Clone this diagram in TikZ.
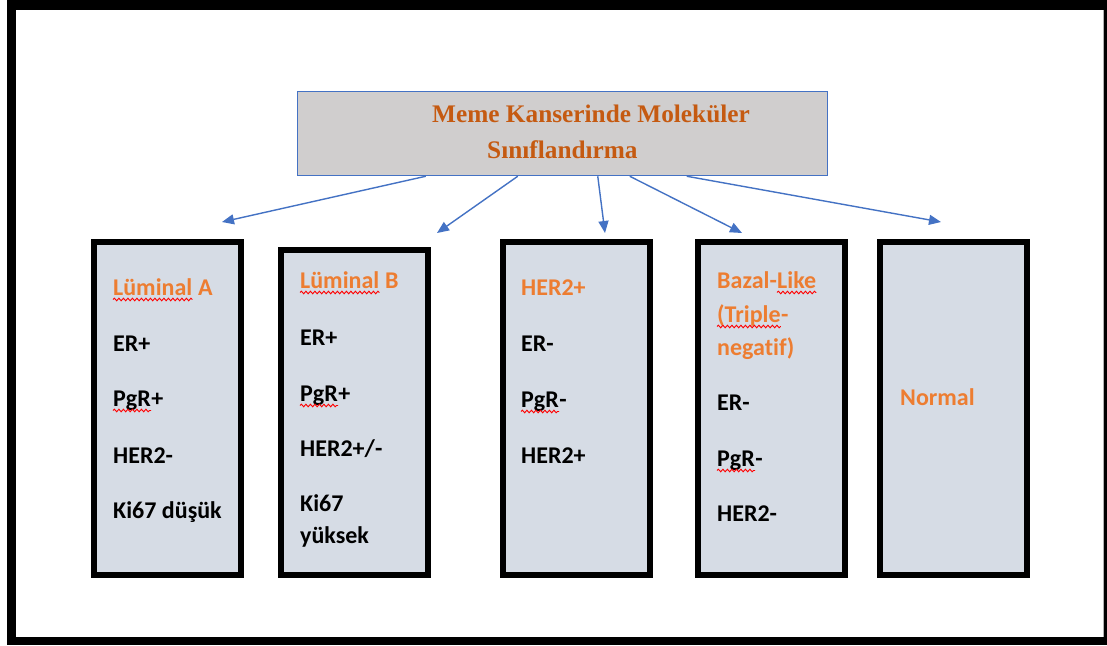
\documentclass[tikz,border=0pt]{standalone}
\usepackage{fontspec}
\setmainfont{Liberation Serif}
\newfontfamily\calib[Ligatures=NoCommon]{Carlito}
\usetikzlibrary{arrows.meta,decorations.pathmorphing}
\definecolor{titleor}{HTML}{C55A11}
\definecolor{labor}{HTML}{ED7D31}
\definecolor{titlefill}{HTML}{D0CECE}
\definecolor{myblue}{HTML}{4472C4}
\definecolor{boxfill}{HTML}{D6DCE5}
\tikzset{
  catbox/.style={draw=black, line width=6pt, fill=boxfill, minimum width=147pt, minimum height=333pt, inner sep=0pt},
  lab/.style={anchor=base west, inner sep=0pt, text=labor, font=\calib\bfseries\fontsize{24}{28}\selectfont},
  itm/.style={anchor=base west, inner sep=0pt, text=black, font=\calib\bfseries\fontsize{24}{28}\selectfont},
  ttl/.style={anchor=base west, inner sep=0pt, text=titleor, font=\bfseries\fontsize{25.3}{29}\selectfont},
  arr/.style={draw=myblue, line width=1.4pt, -{Triangle[length=12pt,width=10pt]}},
  wave/.style={draw=red, line width=0.9pt, decorate, decoration={snake, segment length=4.5pt, amplitude=1.3pt}}
}
\begin{document}
\begin{tikzpicture}[x=1pt,y=-1pt]
\useasboundingbox (0,0) rectangle (1107,645);
% outer frame
\fill[black] (7,0) rectangle (1107,645);
\fill[white] (16,10) rectangle (1103,637);
\draw[gray!60, line width=0.8pt] (1103.6,10) -- (1103.6,637);
% title box
\node[draw=myblue, line width=1.5pt, fill=titlefill, minimum width=530pt, minimum height=84pt, inner sep=0pt] (title) at (562.5,133.5) {};
\node[ttl] (title1) at (432,122) {Meme Kanserinde Moleküler};
\node[ttl] (title2) at (487,158) {Sınıflandırma};
% category boxes
\node[catbox] (box1) at (167,408.5) {};
\node[catbox, minimum height=325pt] (box2) at (354,412.5) {};
\node[catbox] (box3) at (576,408.5) {};
\node[catbox] (box4) at (771,408.5) {};
\node[catbox] (box5) at (953.5,408.5) {};
% arrows
\coordinate (t1) at (222,222);
\coordinate (t2) at (437,233);
\coordinate (t3) at (605,233);
\coordinate (t4) at (742,233);
\coordinate (t5) at (941,222);
\draw[arr] ([xshift=129pt]title.south west) -- (t1);
\draw[arr] ([xshift=221pt]title.south west) -- (t2);
\draw[arr] ([xshift=301pt]title.south west) -- (t3);
\draw[arr] ([xshift=333pt]title.south west) -- (t4);
\draw[arr] ([xshift=390pt]title.south west) -- (t5);
% box 1
\node[lab] (b1a) at (113,295) {Lüminal};
\node[lab] (b1a2) at (b1a.base east) {\ A};
\node[itm] (b1b) at (113,351) {ER+};
\node[itm] (b1c) at (113,406) {PgR};
\node[itm] (b1c2) at (b1c.base east) {+};
\node[itm] (b1d) at (113,463) {HER2-};
\node[itm] (b1e) at (113,518) {Ki67 düşük};
% box 2
\node[lab] (b2a) at (300,288) {Lüminal};
\node[lab] (b2a2) at (b2a.base east) {\ B};
\node[itm] (b2b) at (300,345) {ER+};
\node[itm] (b2c) at (300,401) {PgR};
\node[itm] (b2c2) at (b2c.base east) {+};
\node[itm] (b2d) at (300,456) {HER2+/-};
\node[itm] (b2e) at (300,511) {Ki67};
\node[itm] (b2f) at (300,543) {yüksek};
% box 3
\node[lab] (b3a) at (521,295) {HER2+};
\node[itm] (b3b) at (521,351) {ER-};
\node[itm] (b3c) at (521,407) {PgR};
\node[itm] (b3c2) at (b3c.base east) {-};
\node[itm] (b3d) at (521,463) {HER2+};
% box 4
\node[lab] (b4a) at (717,288) {Bazal-};
\node[lab] (b4a2) at (b4a.base east) {Like};
\node[lab] (b4b) at (717,322) {(Triple};
\node[lab] (b4b2) at (b4b.base east) {-};
\node[lab] (b4c) at (717,355) {negatif)};
\node[itm] (b4d) at (717,410) {ER-};
\node[itm] (b4e) at (717,466) {PgR};
\node[itm] (b4e2) at (b4e.base east) {-};
\node[itm] (b4f) at (717,521) {HER2-};
% box 5
\node[lab] (b5a) at (900,405) {Normal};
% spelling squiggles
\foreach \w in {b1a,b2a,b1c,b2c,b3c,b4a2,b4b,b4e}
  \draw[wave] ([yshift=-4.5pt]\w.base west) -- ([yshift=-4.5pt]\w.base east);
\end{tikzpicture}
\end{document}
